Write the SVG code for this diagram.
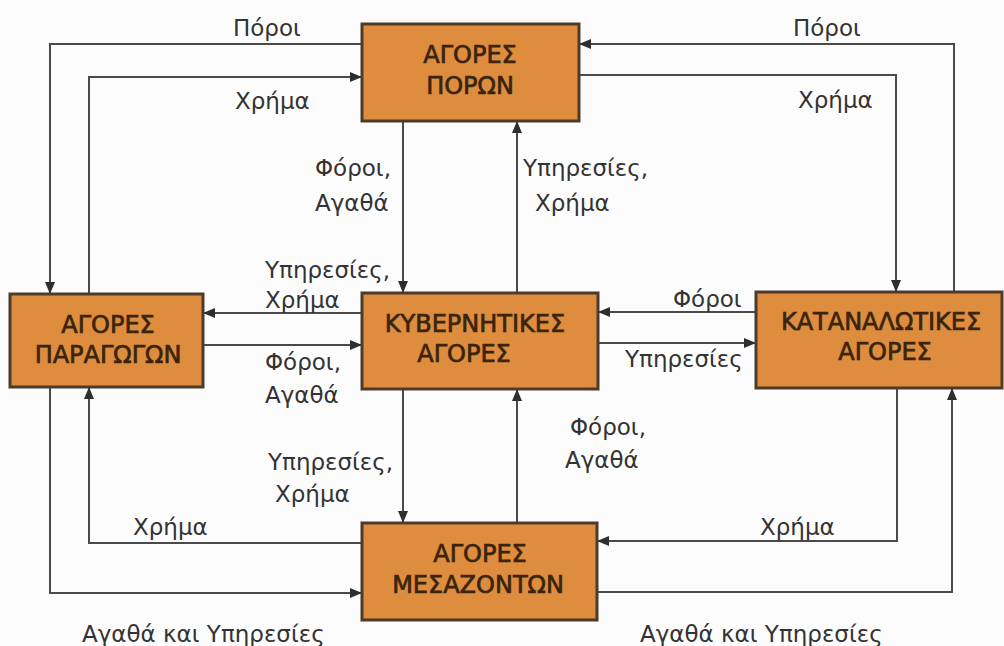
<svg xmlns="http://www.w3.org/2000/svg" width="1004" height="646" viewBox="0 0 1004 646">
  <defs>
    <marker id="arrow" viewBox="0 0 12 10" refX="12" refY="5" markerWidth="12" markerHeight="10" markerUnits="userSpaceOnUse" orient="auto">
      <path d="M0,0 L12,5 L0,10 z" fill="#2e2e2e"/>
    </marker>
    <style>
      .box { fill: #de8d3e; stroke: #4d3b2a; stroke-width: 3; }
      .btxt { font-family: "DejaVu Sans", Verdana, sans-serif; font-size: 24px; fill: #3a240c; stroke: #3a240c; stroke-width: 0.7; text-anchor: middle; }
      .lbl { font-family: "DejaVu Sans", Verdana, sans-serif; font-size: 23px; fill: #333333; }
      .flow { fill: none; stroke: #4a4a4a; stroke-width: 2; marker-end: url(#arrow); }
    </style>
  </defs>

  <rect width="1004" height="646" fill="#fdfcfd"/>

  <!-- flows between markets -->
  <g id="connectors">
    <path class="flow" d="M362,44 H50 V294"/>
    <path class="flow" d="M89,294 V77 H362"/>
    <path class="flow" d="M954,292 V44 H579"/>
    <path class="flow" d="M579,75 H896 V292"/>
    <path class="flow" d="M403,121 V293"/>
    <path class="flow" d="M517,293 V121"/>
    <path class="flow" d="M362,313 H203"/>
    <path class="flow" d="M203,345 H362"/>
    <path class="flow" d="M756,312 H598"/>
    <path class="flow" d="M598,343 H756"/>
    <path class="flow" d="M403,389 V523"/>
    <path class="flow" d="M517,523 V389"/>
    <path class="flow" d="M50,387 V593 H362"/>
    <path class="flow" d="M362,543 H89 V387"/>
    <path class="flow" d="M897,388 V541 H597"/>
    <path class="flow" d="M597,592 H952 V388"/>
  </g>

  <!-- flow labels -->
  <g id="labels" class="lbl">
    <text x="233" y="36">Πόροι</text>
    <text x="235" y="109">Χρήμα</text>
    <text x="793" y="36">Πόροι</text>
    <text x="798" y="108">Χρήμα</text>
    <text x="315" y="176">Φόροι,</text>
    <text x="315" y="211">Αγαθά</text>
    <text x="523" y="176">Υπηρεσίες,</text>
    <text x="535" y="211">Χρήμα</text>
    <text x="265" y="278">Υπηρεσίες,</text>
    <text x="265" y="308">Χρήμα</text>
    <text x="265" y="370">Φόροι,</text>
    <text x="265" y="403">Αγαθά</text>
    <text x="673" y="307">Φόροι</text>
    <text x="625" y="367">Υπηρεσίες</text>
    <text x="268" y="470">Υπηρεσίες,</text>
    <text x="275" y="502">Χρήμα</text>
    <text x="570" y="435">Φόροι,</text>
    <text x="565" y="468">Αγαθά</text>
    <text x="133" y="535">Χρήμα</text>
    <text x="760" y="535">Χρήμα</text>
    <text x="82" y="642">Αγαθά και Υπηρεσίες</text>
    <text x="640" y="642">Αγαθά και Υπηρεσίες</text>
  </g>

  <g id="resource-markets">
    <rect class="box" x="362" y="24" width="217" height="97"/>
    <text class="btxt" x="470" y="63">ΑΓΟΡΕΣ</text>
    <text class="btxt" x="470" y="94">ΠΟΡΩΝ</text>
  </g>

  <g id="producer-markets">
    <rect class="box" x="10" y="294" width="193" height="93"/>
    <text class="btxt" x="108" y="333">ΑΓΟΡΕΣ</text>
    <text class="btxt" x="108" y="363">ΠΑΡΑΓΩΓΩΝ</text>
  </g>

  <g id="government-markets">
    <rect class="box" x="362" y="293" width="236" height="96"/>
    <text class="btxt" x="475" y="332">ΚΥΒΕΡΝΗΤΙΚΕΣ</text>
    <text class="btxt" x="464" y="362">ΑΓΟΡΕΣ</text>
  </g>

  <g id="consumer-markets">
    <rect class="box" x="756" y="292" width="246" height="96"/>
    <text class="btxt" x="881" y="330">ΚΑΤΑΝΑΛΩΤΙΚΕΣ</text>
    <text class="btxt" x="885" y="360">ΑΓΟΡΕΣ</text>
  </g>

  <g id="intermediary-markets">
    <rect class="box" x="362" y="523" width="235" height="97"/>
    <text class="btxt" x="480" y="562">ΑΓΟΡΕΣ</text>
    <text class="btxt" x="478" y="593">ΜΕΣΑΖΟΝΤΩΝ</text>
  </g>
</svg>
